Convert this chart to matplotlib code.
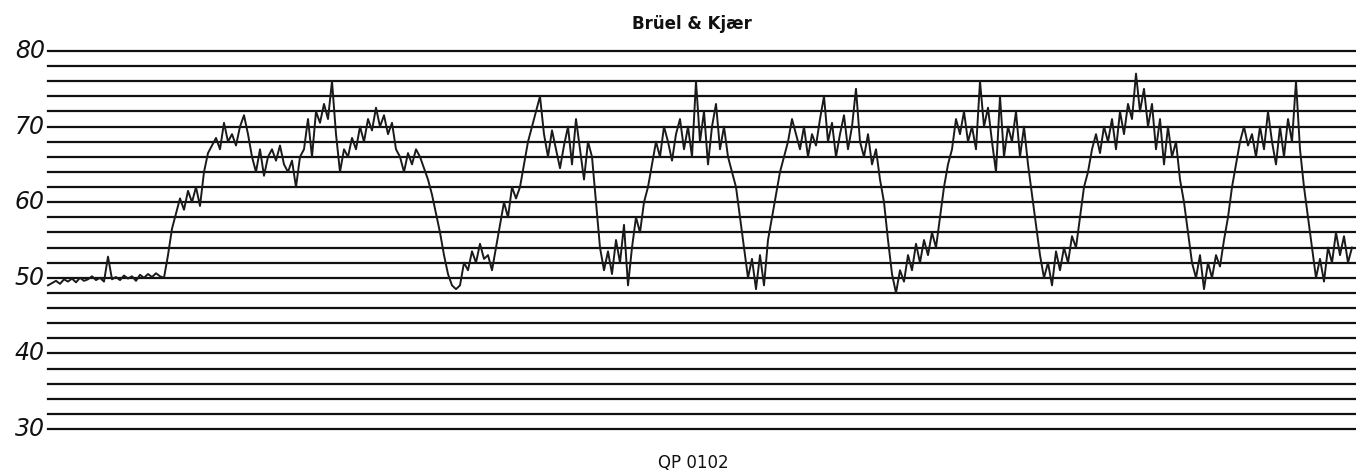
import numpy as np
import matplotlib
matplotlib.use("Agg")
import matplotlib.pyplot as plt

# ---- data ----
title_text = "Brüel & Kjær"
footer_text = "QP 0102"
y_tick_values = [30, 40, 50, 60, 70, 80]
y_tick_labels = ["30", "40", "50", "60", "70", "80"]
grid_levels = list(range(30, 81, 2))
sample_step = 4  # recorder paper units between readings

level_db = [
    49.0, 49.3, 49.6, 49.2, 49.8, 49.5, 49.9, 49.4, 50.0, 49.6,
    49.8, 50.2, 49.7, 50.0, 49.5, 52.8, 49.8, 50.1, 49.7, 50.3,
    49.9, 50.2, 49.6, 50.4, 50.0, 50.5, 50.1, 50.6, 50.2, 50.0,
    53.0, 56.5, 58.5, 60.5, 59.0, 61.5, 60.0, 62.0, 59.5, 64.0,
    66.5, 67.5, 68.5, 67.0, 70.5, 68.0, 69.0, 67.5, 70.0, 71.5,
    69.0, 66.0, 64.0, 67.0, 63.5, 66.0, 67.0, 65.5, 67.5, 65.0,
    64.0, 65.5, 62.0, 66.0, 67.0, 71.0, 66.0, 72.0, 70.5, 73.0,
    71.0, 76.0, 69.0, 64.0, 67.0, 66.0, 68.5, 67.0, 70.0, 68.0,
    71.0, 69.5, 72.5, 70.0, 71.5, 69.0, 70.5, 67.0, 66.0, 64.0,
    66.5, 65.0, 67.0, 66.0, 64.5, 63.0, 61.0, 58.5, 56.0, 53.0,
    50.5, 49.0, 48.5, 49.0, 52.0, 51.0, 53.5, 52.0, 54.5, 52.5,
    53.0, 51.0, 54.0, 57.0, 60.0, 58.0, 62.0, 60.5, 62.0, 65.0,
    68.0, 70.0, 72.0, 74.0, 69.0, 66.0, 69.5, 67.0, 64.5, 67.5,
    70.0, 65.0, 71.0, 67.0, 63.0, 68.0, 66.0, 60.0, 54.0, 51.0,
    53.5, 50.5, 55.0, 52.0, 57.0, 49.0, 54.0, 58.0, 56.0, 60.0,
    62.0, 65.0, 68.0, 66.0, 70.0, 68.0, 65.5, 69.0, 71.0, 67.0,
    70.0, 66.0, 76.0, 68.0, 72.0, 65.0, 70.0, 73.0, 67.0, 70.0,
    66.0, 64.0, 62.0, 58.0, 54.0, 50.0, 52.5, 48.5, 53.0, 49.0,
    55.0, 58.0, 61.0, 64.0, 66.0, 68.0, 71.0, 69.0, 67.0, 70.0,
    66.0, 69.0, 67.5, 71.0, 74.0, 68.0, 70.5, 66.0, 69.0, 71.5,
    67.0, 70.0, 75.0, 68.0, 66.0, 69.0, 65.0, 67.0, 63.0, 60.0,
    55.0, 50.5, 48.0, 51.0, 49.5, 53.0, 51.0, 54.5, 52.0, 55.0,
    53.0, 56.0, 54.0, 58.0, 62.0, 65.0, 67.0, 71.0, 69.0, 72.0,
    68.0, 70.0, 67.0, 76.0, 70.0, 72.5, 68.0, 64.0, 74.0, 66.0,
    70.0, 68.0, 72.0, 66.0, 70.0, 65.0, 61.0, 57.0, 53.0, 50.0,
    52.0, 49.0, 53.5, 51.0, 54.0, 52.0, 55.5, 54.0, 58.0, 62.0,
    64.0, 67.0, 69.0, 66.5, 70.0, 68.0, 71.0, 67.0, 72.0, 69.0,
    73.0, 71.0, 77.0, 72.0, 75.0, 70.0, 73.0, 67.0, 71.0, 65.0,
    70.0, 66.0, 68.0, 63.0, 60.0, 56.0, 52.0, 50.0, 53.0, 48.5,
    52.0, 50.0, 53.0, 51.5, 55.0, 58.0, 62.0, 65.0, 68.0, 70.0,
    67.5, 69.0, 66.0, 70.0, 67.0, 72.0, 68.0, 65.0, 70.0, 66.0,
    71.0, 68.0, 76.0, 67.0, 62.0, 58.0, 54.0, 50.0, 52.5, 49.5,
    54.0, 52.0, 56.0, 53.0, 55.5, 52.0, 54.0,
]

# ---- figure ----
W, H, DPI = 1356, 475, 100
fig = plt.figure(figsize=(W / DPI, H / DPI), dpi=DPI, facecolor="white")
ax = fig.add_axes([48 / W, (H - 429) / H, 1 - 48 / W, (429 - 51) / H])
ax.set_facecolor("white")

x = np.arange(len(level_db)) * sample_step
ax.set_xlim(0, 1308)
ax.set_ylim(30, 80)

for lv in grid_levels:
    ax.axhline(lv, color="#111111", lw=1.6, zorder=1, clip_on=False)

ax.plot(x, level_db, color="#1a1a1a", lw=1.4, zorder=3, clip_on=False)

for sp in ax.spines.values():
    sp.set_visible(False)
ax.set_xticks([])
ax.set_yticks([])

for v, lab in zip(y_tick_values, y_tick_labels):
    ax.text(-3, v, lab, ha="right", va="center", fontsize=17,
            style="italic", family="DejaVu Sans", color="#111111",
            fontweight="light", clip_on=False)

fig.text(692 / W, 1 - 24 / H, title_text, ha="center", va="center",
         fontsize=12, fontweight="bold", family="DejaVu Sans", color="#111111")
fig.text(693 / W, 1 - 463 / H, footer_text, ha="center", va="center",
         fontsize=12, family="DejaVu Sans", color="#111111")

fig.savefig("out.png", dpi=DPI, facecolor="white")
